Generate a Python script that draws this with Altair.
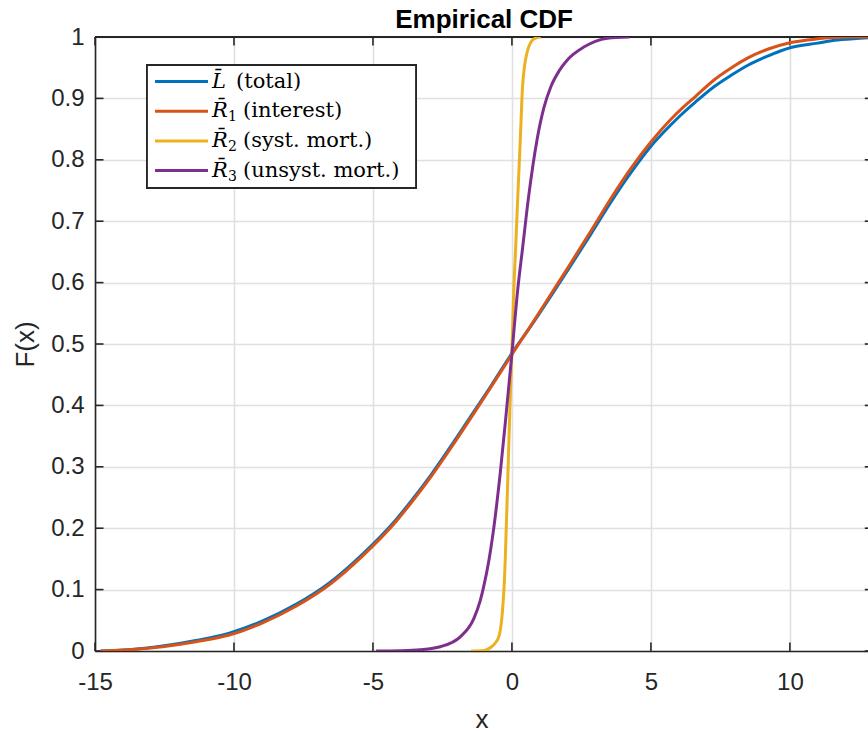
import altair as alt
import pandas as pd

# ---- empirical CDF curves (x, F(x)) ----
L_X = [-14.8, -13.77, -12.57, -11.37, -10.17, -8.97, -7.77, -6.57, -5.37, -4.17, -3.63, -2.91,
       -2.19, -1.47, -0.75, 0.0, 0.68, 1.40, 2.12, 2.84, 3.56, 4.28, 5.00, 5.72, 6.08, 6.60,
       7.27, 7.90, 8.49, 9.20, 10.04, 11.0, 11.5, 12.3, 12.84]
L_F = [0.0, 0.002, 0.008, 0.017, 0.029, 0.049, 0.076, 0.111, 0.158, 0.214, 0.244, 0.287,
       0.334, 0.383, 0.432, 0.485, 0.529, 0.578, 0.628, 0.679, 0.731, 0.779, 0.822, 0.857, 0.873,
       0.894, 0.919, 0.938, 0.954, 0.969, 0.983, 0.990, 0.994, 0.997, 0.999]

R1_X = [-14.8, -13.77, -12.57, -11.37, -10.17, -8.97, -7.77, -6.57, -5.37, -4.17, -3.63, -2.91,
        -2.19, -1.47, -0.75, 0.0, 0.68, 1.40, 2.12, 2.84, 3.56, 4.28, 5.00, 5.72, 6.08, 6.60,
        7.27, 7.90, 8.49, 9.20, 10.04, 11.0, 11.5, 12.2, 12.84]
R1_F = [0.0, 0.002, 0.007, 0.015, 0.026, 0.046, 0.073, 0.108, 0.155, 0.211, 0.241, 0.284,
        0.331, 0.380, 0.430, 0.483, 0.530, 0.581, 0.632, 0.684, 0.737, 0.786, 0.829, 0.866, 0.882,
        0.903, 0.930, 0.950, 0.966, 0.980, 0.991, 0.997, 0.999, 1.0, 1.0]

R2_X = [-1.47, -1.0, -0.76, -0.6, -0.46, -0.35, -0.27, -0.24, -0.15, -0.07, 0.0, 0.06, 0.13,
        0.22, 0.30, 0.38, 0.46, 0.54, 0.74, 0.9, 1.04]
R2_F = [0.0, 0.001, 0.006, 0.013, 0.025, 0.06, 0.115, 0.15, 0.28, 0.40, 0.49, 0.58, 0.653,
        0.75, 0.832, 0.918, 0.955, 0.974, 0.995, 0.999, 1.0]

R3_X = [-4.89, -4.0, -3.3, -2.58, -1.86, -1.38, -1.14, -1.02, -0.82, -0.70, -0.42, -0.2, 0.0,
        0.2, 0.38, 0.6, 0.9, 1.15, 1.4, 1.7, 2.0, 2.6, 3.0, 3.44, 4.22]
R3_F = [0.0, 0.0005, 0.002, 0.007, 0.023, 0.052, 0.082, 0.104, 0.150, 0.185, 0.29, 0.39, 0.485,
        0.585, 0.655, 0.74, 0.832, 0.885, 0.919, 0.945, 0.963, 0.984, 0.993, 0.998, 1.0]

# ---- legend entries ----
LEG_LETTER = ["L\u0304", "R\u0304", "R\u0304", "R\u0304"]
LEG_SUB = ["", "1", "2", "3"]
LEG_TEXT = ["(total)", "(interest)", "(syst. mort.)", "(unsyst. mort.)"]
COLORS = ["#0072BD", "#D95319", "#EDB120", "#7E2F8E"]

TITLE = "Empirical CDF"

# ---- axes ----
X_TICKS = [-15, -10, -5, 0, 5, 10]
Y_TICKS = [0, 0.1, 0.2, 0.3, 0.4, 0.5, 0.6, 0.7, 0.8, 0.9, 1]
X_MIN, X_MAX, X_BOX = -15, 12.81, 13

W, H = 773, 614
TICK = 8.5
INK = "#262626"
FONT = "Liberation Sans"

xscale = alt.Scale(domain=[X_MIN, X_MAX], nice=False, zero=False)
yscale = alt.Scale(domain=[0, 1], nice=False, zero=False)

x_axis = alt.Axis(values=X_TICKS, labelExpr="datum.value + ''", title="x", grid=True,
                  ticks=False, labelPadding=19, titlePadding=12, labelFlush=False,
                  labelOverlap=False, labelBound=False)
y_axis = alt.Axis(values=Y_TICKS, format=".1~f", title="F(x)", grid=True, ticks=False,
                  labelPadding=11, titlePadding=12, labelFlush=False, labelOverlap=False,
                  labelBound=False)


def curve(xs, fs, color):
    df = pd.DataFrame({"x": xs, "F": fs})
    return alt.Chart(df).mark_line(color=color, strokeWidth=3, clip=True,
                                   interpolate="monotone").encode(
        x=alt.X("x:Q", scale=xscale, axis=x_axis),
        y=alt.Y("F:Q", scale=yscale, axis=y_axis),
    )


lines = [curve(L_X, L_F, COLORS[0]), curve(R1_X, R1_F, COLORS[1]),
         curve(R2_X, R2_F, COLORS[2]), curve(R3_X, R3_F, COLORS[3])]

# box frame: top edge plus inward-pointing ticks on all sides
x_box_px = W * (X_BOX - X_MIN) / (X_MAX - X_MIN)
xt = pd.DataFrame({"x": X_TICKS})
yt = pd.DataFrame({"F": Y_TICKS})

top_edge = alt.Chart(xt).mark_rule(color=INK, strokeWidth=1.6).encode(
    x=alt.value(0), x2=alt.value(x_box_px), y=alt.value(0))
ticks_bottom = alt.Chart(xt).mark_rule(color=INK, strokeWidth=1.6).encode(
    x=alt.X("x:Q", scale=xscale, axis=x_axis), y=alt.value(H - TICK), y2=alt.value(H))
ticks_top = alt.Chart(xt).mark_rule(color=INK, strokeWidth=1.6).encode(
    x=alt.X("x:Q", scale=xscale, axis=x_axis), y=alt.value(0), y2=alt.value(TICK))
ticks_left = alt.Chart(yt).mark_rule(color=INK, strokeWidth=1.6).encode(
    y=alt.Y("F:Q", scale=yscale, axis=y_axis), x=alt.value(0), x2=alt.value(TICK))
ticks_right = alt.Chart(yt).mark_rule(color=INK, strokeWidth=1.6).encode(
    y=alt.Y("F:Q", scale=yscale, axis=y_axis), x=alt.value(x_box_px - TICK),
    x2=alt.value(x_box_px))

# title, centred over the full box width
title_df = pd.DataFrame({"t": [TITLE]})
title_mark = alt.Chart(title_df).mark_text(
    font=FONT, fontSize=26, fontWeight="bold", color="#000000", align="center",
    baseline="alphabetic").encode(x=alt.value(x_box_px / 2), y=alt.value(-9), text="t:N")

# legend box
ROW0, ROW_STEP = 44.5, 29.7
leg = pd.DataFrame({
    "letter": LEG_LETTER, "sub": LEG_SUB, "text": LEG_TEXT, "color": COLORS,
    "row": [ROW0 + ROW_STEP * i for i in range(4)],
})
leg["text_x"] = [141 if s == "" else 148 for s in LEG_SUB]
leg["sub_row"] = leg["row"] + 6

legend_box = alt.Chart(leg).mark_rect(fill="white", stroke=INK, strokeWidth=1.8).encode(
    x=alt.value(52), x2=alt.value(321), y=alt.value(28), y2=alt.value(151))
legend_lines = alt.Chart(leg).mark_rule(strokeWidth=3).encode(
    x=alt.value(60), x2=alt.value(113),
    y=alt.Y("row:Q", scale=None, axis=None),
    color=alt.Color("color:N", scale=None, legend=None))
legend_letter = alt.Chart(leg).mark_text(
    font="DejaVu Serif", fontSize=21, fontStyle="italic", align="left", baseline="middle",
    color="#000000").encode(x=alt.value(117), y=alt.Y("row:Q", scale=None, axis=None),
                            text="letter:N")
legend_sub = alt.Chart(leg).mark_text(
    font="DejaVu Serif", fontSize=14, align="left", baseline="middle",
    color="#000000").encode(x=alt.value(133), y=alt.Y("sub_row:Q", scale=None, axis=None),
                            text="sub:N")
legend_text = alt.Chart(leg).mark_text(
    font="DejaVu Serif", fontSize=21, align="left", baseline="middle",
    color="#000000").encode(x=alt.X("text_x:Q", scale=None, axis=None),
                            y=alt.Y("row:Q", scale=None, axis=None), text="text:N")

chart = alt.layer(
    top_edge, ticks_bottom, ticks_top, ticks_left, ticks_right,
    *lines,
    legend_box, legend_lines, legend_letter, legend_sub, legend_text, title_mark,
).properties(
    width=W, height=H,
    autosize=alt.AutoSizeParams(type="none"),
    padding={"left": 95, "top": 37, "right": 0, "bottom": 81},
    background="white",
).configure_view(stroke=None).configure_axis(
    labelFont=FONT, labelFontSize=24, labelColor=INK,
    titleFont=FONT, titleFontSize=26, titleFontWeight="normal", titleColor=INK,
    domainColor=INK, domainWidth=1.6, gridColor="#e0e0e0", gridWidth=1.6,
)

chart.save("out.html", embed_options={"renderer": "svg", "actions": False})
